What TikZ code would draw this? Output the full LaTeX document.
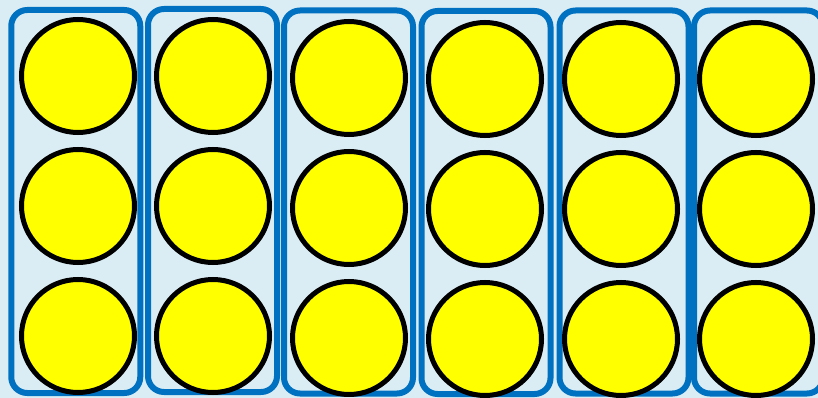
\documentclass[tikz,border=0pt]{standalone}
\usetikzlibrary{positioning}

\definecolor{paleblue}{HTML}{DAEDF4}
\definecolor{frameblue}{HTML}{0070C0}
\definecolor{dotyellow}{HTML}{FFFF00}

\begin{document}
\begin{tikzpicture}[
      x = 1pt, y = -1pt,
      frame/.style   = {rectangle, draw=frameblue, line width=6pt,
                        rounded corners=16pt, inner sep=0pt,
                        minimum width=129pt, minimum height=383pt},
      counter/.style = {circle, draw=black, fill=dotyellow,
                        line width=5pt, inner sep=0pt, minimum size=113pt},
    ]
    % background and page size
    \fill[paleblue] (0,0) rectangle (818,398);
    \useasboundingbox (0,0) rectangle (818,398);

    % ten-frame columns
    \foreach \i/\fx/\fy in {1/75.75/201.5, 2/212.5/200.5, 3/348.5/202,
                            4/486/202.5, 5/624/202, 6/758.5/202}
      \node[frame] (col\i) at (\fx,\fy) {};

    % counters, three per column
    \foreach \i/\cx/\cy in {1/78/76, 2/213/76, 3/349/78,
                            4/485/79, 5/621/79, 6/756/79}
    {
      \node[counter] (dot\i a) at (\cx,\cy) {};
      \node[counter, below=12pt of dot\i a] (dot\i b) {};
      \node[counter, below=12pt of dot\i b] (dot\i c) {};
    }
\end{tikzpicture}
\end{document}
